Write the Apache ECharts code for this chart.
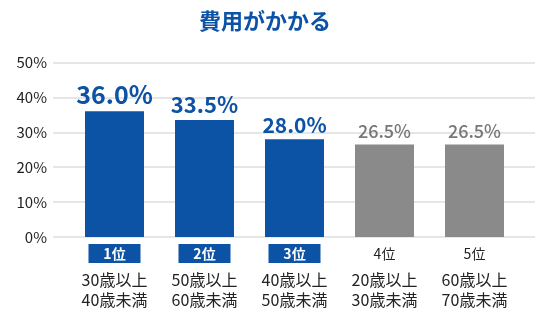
<!DOCTYPE html>
<html><head><meta charset="utf-8">
<script src="https://cdn.jsdelivr.net/npm/echarts@6/dist/echarts.min.js"></script>
<style>html,body{margin:0;padding:0;background:#fff}#c{width:550px;height:330px}</style>
</head><body><div id="c"></div>
<script>
const title = '費用がかかる';
const ranks = ['1位','2位','3位','4位','5位'];
const groupLine1 = ['30歳以上','50歳以上','40歳以上','20歳以上','60歳以上'];
const groupLine2 = ['40歳未満','60歳未満','50歳未満','30歳未満','70歳未満'];
const values = [36.0, 33.5, 28.0, 26.5, 26.5];
const yTicks = [0, 10, 20, 30, 40, 50];

const BLUE = '#0c52a5', GRAY = '#8a8a8a', FONT = '"Noto Sans CJK JP", "Noto Sans", sans-serif';
const labelSizes = [25, 22, 21, 18, 18];
const highlighted = 3;

const chart = echarts.init(document.getElementById('c'), null, {renderer: 'canvas'});
const cats = ranks.map((r, i) => i);
chart.setOption({
  animation: false,
  textStyle: {fontFamily: FONT},
  title: {text: title, left: 199, top: 10, padding: 0,
    textStyle: {color: BLUE, fontSize: 22, fontWeight: 600, fontFamily: FONT}},
  grid: [
    {left: 53, right: 15, top: 62.5, bottom: 93},
    {left: 69.5, right: 30.5, top: 62.5, bottom: 93}
  ],
  xAxis: [
    {gridIndex: 0, type: 'value', show: false, min: 0, max: 1},
    {gridIndex: 1, type: 'category', data: cats,
      axisLine: {show: false}, axisTick: {show: false},
      axisLabel: {margin: 7, interval: 0,
        formatter: (v) => {
          const i = +v;
          const head = i < highlighted ? '{box|' + ranks[i] + '}' : '{plain|' + ranks[i] + '}';
          return head + '\n{sp| }\n{txt|' + groupLine1[i] + '}\n{txt|' + groupLine2[i] + '}';
        },
        rich: {
          box: {backgroundColor: BLUE, color: '#fff', width: 52, height: 19, lineHeight: 19,
            align: 'center', fontSize: 14, fontWeight: 'bold', fontFamily: FONT},
          plain: {color: '#222', height: 19, lineHeight: 19, fontSize: 14, fontFamily: FONT, align: 'center'},
          sp: {fontSize: 2, lineHeight: 7, height: 7},
          txt: {color: '#222', fontSize: 16, lineHeight: 20, fontFamily: FONT, align: 'center'}
        }
      }}
  ],
  yAxis: [
    {gridIndex: 0, type: 'value', min: yTicks[0], max: yTicks[yTicks.length - 1], interval: 10,
      axisLine: {show: false}, axisTick: {show: false},
      axisLabel: {formatter: '{value}%', color: '#222', fontSize: 15, margin: 6, fontFamily: FONT},
      splitLine: {lineStyle: {color: '#e6e6e6', width: 2}}},
    {gridIndex: 1, type: 'value', min: 0, max: 50, show: false, splitLine: {show: false}}
  ],
  series: [{
    type: 'bar', xAxisIndex: 1, yAxisIndex: 1, barWidth: 59,
    data: values.map((v, i) => ({
      value: v,
      itemStyle: {color: i < highlighted ? BLUE : GRAY},
      label: {show: true, position: 'top', distance: 4,
        formatter: v.toFixed(1) + '%',
        color: i < highlighted ? BLUE : '#777',
        fontSize: labelSizes[i], fontWeight: i < highlighted ? 'bold' : 500, fontFamily: FONT}
    }))
  }]
});
</script></body></html>
